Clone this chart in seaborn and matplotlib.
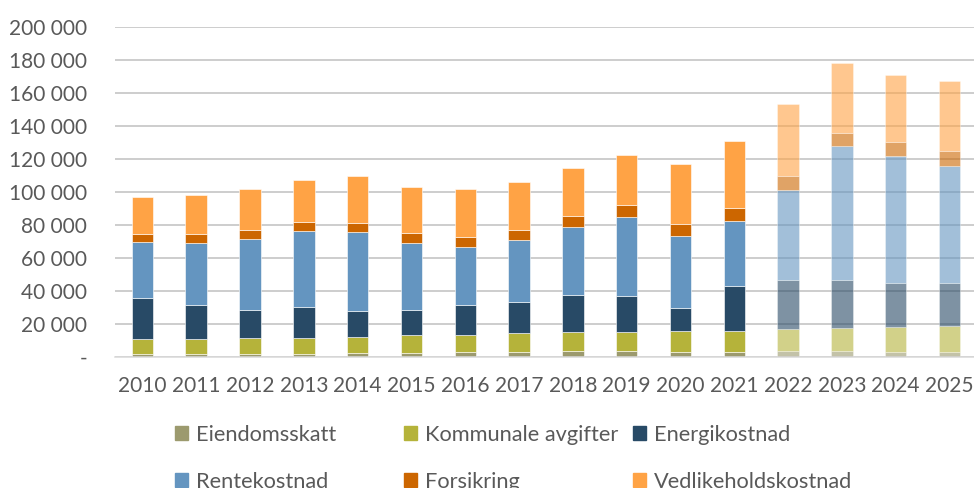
import numpy as np
import pandas as pd
import matplotlib
matplotlib.use("Agg")
import matplotlib.pyplot as plt
import matplotlib.patches as mpatches
from matplotlib.ticker import FuncFormatter
import seaborn as sns

years = [str(y) for y in range(2010, 2026)]
eiendomsskatt = [1500, 1500, 1500, 1500, 2000, 2000, 2600, 3000, 3300, 3300, 3000, 2800, 3200, 3200, 2600, 2600]
kommunale = [9000, 9400, 9650, 10000, 9750, 11000, 10700, 11200, 11500, 11850, 12600, 12700, 13300, 14100, 15300, 15800]
energi = [24900, 20200, 17150, 18800, 16150, 15100, 18200, 19100, 22800, 21450, 14100, 27200, 30300, 29500, 27100, 26600]
rente = [33900, 38000, 42800, 45700, 47500, 40800, 35200, 37400, 41200, 48200, 43600, 39400, 54600, 80800, 76600, 70900]
forsikring = [5200, 5400, 5700, 5600, 5800, 6100, 6000, 6100, 6600, 7300, 7100, 7900, 8500, 8300, 8900, 9100]
vedlikehold = [22500, 23700, 25000, 25500, 28500, 28000, 28900, 29100, 29100, 30100, 36400, 40600, 43600, 42400, 40600, 42400]

series_names = ["Eiendomsskatt", "Kommunale avgifter", "Energikostnad",
                "Rentekostnad", "Forsikring", "Vedlikeholdskostnad"]
series_vals = [eiendomsskatt, kommunale, energi, rente, forsikring, vedlikehold]
colors = ["#9c9a6e", "#b5b33a", "#284a66", "#6495c0", "#cc6600", "#ffa345"]
forecast_start = 12  # 2022 onwards drawn lighter

sns.set_theme(style="white")
plt.rcParams["font.family"] = ["Lato", "DejaVu Sans"]
text_color = "#595959"

fig = plt.figure(figsize=(9.74, 4.88), dpi=100)
ax = fig.add_axes([115 / 974, 1 - 356.7 / 488, 1 - 115 / 974, (356.7 - 27) / 488])

bottom = np.zeros(len(years))
for name, vals, c in zip(series_names, series_vals, colors):
    df = pd.DataFrame({"year": years, "value": vals})
    sns.barplot(data=df, x="year", y="value", color=c, width=0.4, bottom=bottom,
                errorbar=None, ax=ax, saturation=1, edgecolor="white", linewidth=0.4)
    bottom = bottom + np.array(vals, dtype=float)

for cont in ax.containers:
    for i, p in enumerate(cont.patches):
        if i >= forecast_start:
            p.set_alpha(0.6)

ax.set_ylim(0, 200000)
ax.set_xlim(-0.51, 15.455)
ax.set_yticks(np.arange(0, 200001, 20000))
ax.yaxis.set_major_formatter(FuncFormatter(
    lambda v, p: "-" if v == 0 else f"{int(v):,}".replace(",", " ")))
ax.grid(axis="y", color="#c0c0c0", linewidth=1.1)
ax.grid(axis="x", visible=False)
ax.set_axisbelow(True)
for s in ["top", "right", "left"]:
    ax.spines[s].set_visible(False)
ax.spines["bottom"].set_color("#d9d9d9")
ax.spines["bottom"].set_linewidth(1.1)
ax.set_xlabel("")
ax.set_ylabel("")
ax.tick_params(axis="y", length=0, pad=20, labelsize=15, labelcolor=text_color)
ax.tick_params(axis="x", length=0, pad=14, labelsize=15, labelcolor=text_color)

handles = [mpatches.Patch(color=c, label=n) for n, c in zip(series_names, colors)]
col_x = [175, 404, 633]
for k in range(3):
    hs = [handles[k], handles[k + 3]]
    fig.legend(handles=hs, loc="upper left", bbox_to_anchor=(col_x[k] / 974, 1 - 425 / 488),
               frameon=False, fontsize=15.7, labelcolor=text_color, handlelength=0.6,
               handleheight=0.6, handletextpad=0.37, labelspacing=1.24, borderpad=0,
               borderaxespad=0)

fig.savefig("out.png", dpi=100)
